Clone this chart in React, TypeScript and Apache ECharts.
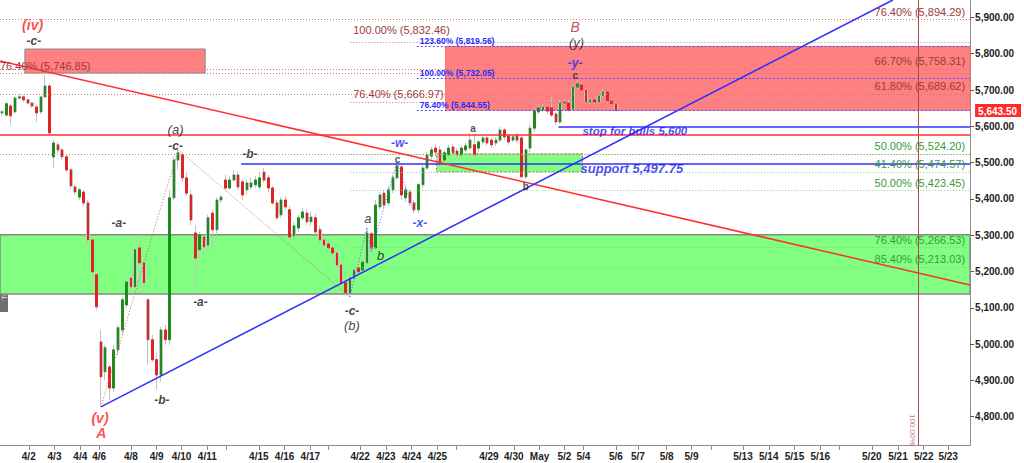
import React, { useEffect, useRef } from 'react';
import * as echarts from 'echarts';

// 4-hour candles: [open, close, low, high]
const candles: number[][] = [
  [5637, 5640, 5629, 5645], [5631, 5662, 5626, 5667], [5656, 5629, 5604, 5662], [5640, 5678, 5634, 5684],
  [5678, 5681, 5673, 5689], [5681, 5673, 5667, 5686], [5673, 5664, 5662, 5675], [5664, 5656, 5651, 5667],
  [5653, 5637, 5612, 5659], [5640, 5681, 5634, 5684], [5681, 5711, 5678, 5741], [5711, 5582, 5576, 5717],
  [5516, 5554, 5485, 5562], [5549, 5535, 5527, 5557], [5535, 5516, 5507, 5540], [5516, 5480, 5474, 5521],
  [5480, 5436, 5428, 5485], [5433, 5419, 5411, 5439], [5405, 5425, 5397, 5430], [5419, 5389, 5381, 5425],
  [5389, 5287, 5273, 5397], [5287, 5199, 5163, 5293], [5191, 5103, 5094, 5196], [5006, 4910, 4827, 5039],
  [4924, 4990, 4901, 4998], [4937, 4879, 4846, 4943], [4879, 4984, 4868, 4998], [4984, 5045, 4970, 5053],
  [5039, 5122, 5025, 5130], [5108, 5171, 5100, 5182], [5182, 5158, 5144, 5191], [5158, 5260, 5149, 5273],
  [5265, 5224, 5163, 5301], [5224, 5169, 5149, 5232], [5122, 5012, 4943, 5127], [5012, 4957, 4951, 5025],
  [4957, 4915, 4874, 4979], [4915, 5039, 4896, 5047], [5039, 5012, 4998, 5053], [5012, 5403, 4998, 5425],
  [5403, 5507, 5397, 5516], [5507, 5527, 5480, 5535], [5521, 5458, 5447, 5529], [5458, 5416, 5408, 5474],
  [5411, 5342, 5328, 5425], [5306, 5237, 5149, 5328], [5260, 5301, 5237, 5309], [5295, 5268, 5246, 5301],
  [5273, 5348, 5260, 5356], [5361, 5315, 5254, 5370], [5315, 5397, 5301, 5405], [5397, 5405, 5389, 5411],
  [5452, 5430, 5425, 5466], [5430, 5452, 5425, 5463], [5452, 5466, 5447, 5480], [5466, 5433, 5425, 5474],
  [5447, 5411, 5397, 5452], [5425, 5444, 5411, 5452], [5433, 5444, 5425, 5458], [5439, 5452, 5430, 5463],
  [5433, 5458, 5425, 5474], [5474, 5452, 5444, 5485], [5458, 5430, 5419, 5466], [5430, 5389, 5383, 5436],
  [5389, 5348, 5342, 5397], [5356, 5397, 5348, 5405], [5397, 5378, 5370, 5408], [5370, 5295, 5287, 5381],
  [5298, 5326, 5287, 5337], [5320, 5348, 5309, 5356], [5348, 5364, 5342, 5375], [5361, 5337, 5328, 5370],
  [5337, 5350, 5326, 5364], [5348, 5309, 5301, 5359], [5315, 5287, 5279, 5326], [5287, 5273, 5265, 5295],
  [5276, 5265, 5254, 5287], [5265, 5251, 5243, 5273], [5251, 5218, 5210, 5260], [5218, 5169, 5160, 5226],
  [5169, 5141, 5133, 5177], [5141, 5182, 5130, 5191], [5182, 5204, 5171, 5213], [5210, 5199, 5191, 5218],
  [5204, 5226, 5196, 5237], [5224, 5306, 5215, 5320], [5304, 5265, 5254, 5309], [5265, 5383, 5254, 5397],
  [5378, 5411, 5370, 5419], [5416, 5383, 5375, 5425], [5389, 5425, 5381, 5436], [5425, 5458, 5416, 5466],
  [5458, 5491, 5452, 5502], [5488, 5411, 5397, 5496], [5403, 5425, 5392, 5436], [5419, 5389, 5381, 5425],
  [5389, 5370, 5361, 5397], [5370, 5439, 5361, 5444], [5439, 5485, 5430, 5494], [5485, 5521, 5480, 5529],
  [5518, 5535, 5507, 5543], [5540, 5529, 5518, 5551], [5535, 5499, 5488, 5546], [5507, 5527, 5499, 5535],
  [5521, 5540, 5513, 5549], [5543, 5527, 5518, 5551], [5532, 5521, 5513, 5540], [5521, 5540, 5513, 5549],
  [5535, 5546, 5529, 5554], [5540, 5562, 5535, 5582], [5549, 5521, 5513, 5576], [5540, 5557, 5529, 5562],
  [5557, 5568, 5549, 5576], [5568, 5554, 5546, 5573], [5562, 5549, 5540, 5568], [5554, 5562, 5546, 5571],
  [5562, 5590, 5557, 5598], [5590, 5571, 5562, 5595], [5573, 5557, 5549, 5579], [5562, 5571, 5557, 5576],
  [5576, 5562, 5554, 5582], [5568, 5461, 5458, 5573], [5461, 5535, 5455, 5540], [5540, 5595, 5529, 5604],
  [5595, 5642, 5584, 5651], [5640, 5651, 5634, 5659], [5645, 5653, 5640, 5662], [5653, 5642, 5634, 5662],
  [5651, 5631, 5626, 5681], [5634, 5612, 5604, 5640], [5612, 5664, 5607, 5673], [5664, 5667, 5659, 5675],
  [5664, 5645, 5640, 5673], [5648, 5708, 5642, 5714], [5708, 5717, 5703, 5728], [5714, 5700, 5695, 5722],
  [5700, 5667, 5662, 5706], [5667, 5673, 5662, 5678], [5673, 5667, 5662, 5678], [5667, 5684, 5662, 5689],
  [5684, 5695, 5678, 5703], [5695, 5670, 5664, 5700], [5670, 5662, 5656, 5675], [5662, 5643.5, 5642, 5667],
];

// session ticks on the bar-index axis
const dayTickPos = [6.7, 12.7, 18.7, 23.1, 30.5, 36.5, 42.3, 48.3, 52.7, 60.3, 66.3, 72.3, 76.5, 83.9, 89.9, 95.9,
  101.9, 106.3, 113.9, 119.7, 125.7, 131.5, 135.9, 143.5, 148.6, 155.3, 161.1, 165.7, 173.1, 179.1, 185.1, 191.1,
  195.5, 203.1, 209.2, 215.2, 220.9];
const dayTickLabels = ['4/2', '4/3', '4/4', '4/6', '4/8', '4/9', '4/10', '4/11', '', '4/15', '4/16', '4/17', '',
  '4/22', '4/23', '4/24', '4/25', '', '4/29', '4/30', 'May', '5/2', '5/4', '5/6', '5/7', '5/8', '5/9', '',
  '5/13', '5/14', '5/15', '5/16', '', '5/20', '5/21', '5/22', '5/23'];
const priceTicks = [4800, 4900, 5000, 5100, 5200, 5300, 5400, 5500, 5600, 5700, 5800, 5900];
const lastClose = 5643.5;

// horizontal levels
const redHLine = 5578;
const stopLevel = 5600;
const supportLevel = 5497.75;
const brownRightLevels = [5894.29, 5758.31, 5689.62];
const brownRightPct = ['76.40%', '66.70%', '61.80%'];
const brownLeftLevels = [5746.85];
const brownLeftPct = ['76.40%'];
const brownMidLevels = [5832.46, 5666.97];
const brownMidPct = ['100.00%', '76.40%'];
const redDottedLevels = [5524.2];
const blueLevels = [5819.56, 5732.05, 5644.55];
const bluePct = ['123.60%', '100.00%', '76.40%'];
const greenLevels = [5524.2, 5474.57, 5423.45, 5266.53, 5213.03];
const greenPct = ['50.00%', '41.40%', '50.00%', '76.40%', '85.40%'];

// zones: [xStart, xEnd, top, bottom]
const zoneRedLeft = [5.8, 47.8, 5813, 5746.85];
const zoneRedTarget = [103.8, 226, 5819.56, 5644.55];
const zoneSupport = [101.7, 135.7, 5524.2, 5474.57];
const zoneGreenBand = [0, 226, 5301, 5138];

// trend lines: [x0, p0, x1, p1]
const redTrend = [0, 5780, 226, 5163];
const blueTrend = [23.5, 4827, 208, 5948];
const fibStartB = 81.6;
const fibStartX = 97.1;
const stopStart = 130.1;
const supportStart = 56.2;
const cycleLineX = 213.9;

// wave pivots (candle indices)
const pivotA = 23, pivotA1 = 41, pivotB1 = 81;
const zigzag: [number, 'l' | 'h'][] = [[81, 'l'], [85, 'h'], [86, 'l'], [92, 'h'], [96, 'l']];

const waveLabels = [
  { text: '(iv)', x: 7.6, y: 5879, kind: 'red' },
  { text: '-c-', x: 7.9, y: 5835, kind: 'dash' },
  { text: '(a)', x: 40.9, y: 5590, kind: 'paren' },
  { text: '-c-', x: 40.9, y: 5546, kind: 'dash' },
  { text: '-b-', x: 58.2, y: 5524, kind: 'dash' },
  { text: '-a-', x: 27.7, y: 5334, kind: 'dash' },
  { text: '-a-', x: 46.7, y: 5116, kind: 'dash' },
  { text: '-b-', x: 37.7, y: 4846, kind: 'dash' },
  { text: '(v)', x: 23.3, y: 4797, kind: 'red' },
  { text: 'A', x: 23.6, y: 4756, kind: 'red' },
  { text: '-c-', x: 82.0, y: 5092, kind: 'dash' },
  { text: '(b)', x: 82.0, y: 5050, kind: 'paren' },
  { text: 'a', x: 85.7, y: 5345, kind: 'paren' },
  { text: 'b', x: 88.7, y: 5243, kind: 'paren' },
  { text: 'c', x: 92.6, y: 5508, kind: 'small' },
  { text: '-w-', x: 93.1, y: 5553, kind: 'blue' },
  { text: '-x-', x: 97.8, y: 5334, kind: 'blue' },
  { text: 'a', x: 110.2, y: 5595, kind: 'small' },
  { text: 'b', x: 122.5, y: 5433, kind: 'small' },
  { text: 'B', x: 134.0, y: 5874, kind: 'darkred' },
  { text: '(y)', x: 134.3, y: 5832, kind: 'paren' },
  { text: '-y-', x: 134.0, y: 5775, kind: 'blue' },
  { text: 'c', x: 134.0, y: 5741, kind: 'small' },
  { text: 'stop for bulls 5,600', x: 147.9, y: 5587, kind: 'note' },
  { text: 'support 5,497.75', x: 147.2, y: 5485, kind: 'noteBig' },
  { text: '100.00%', x: 212.6, y: 4764, kind: 'vert' },
];

const FONT = 'Liberation Sans, Arial, sans-serif';
const X_MAX = 226;
const Y_MIN = 4722;
const Y_MAX = 5948;

const fmt = (v: number) => v.toLocaleString('en-US', { minimumFractionDigits: 2, maximumFractionDigits: 2 });

const kindStyle: Record<string, any> = {
  red: { color: '#ff2020', fontSize: 14, fontWeight: 'bold', fontStyle: 'italic' },
  dash: { color: '#111', fontSize: 12, fontWeight: 'bold', fontStyle: 'italic' },
  paren: { color: '#111', fontSize: 13, fontStyle: 'italic' },
  small: { color: '#222', fontSize: 10, fontWeight: 'bold' },
  blue: { color: '#2020ff', fontSize: 12, fontWeight: 'bold', fontStyle: 'italic' },
  darkred: { color: '#b02828', fontSize: 14, fontStyle: 'italic' },
  note: { color: '#2020ee', fontSize: 11.5, fontWeight: 'bold', fontStyle: 'italic' },
  noteBig: { color: '#2020ee', fontSize: 13, fontWeight: 'bold', fontStyle: 'italic' },
  vert: { color: '#b05050', fontSize: 8, rotate: -90 },
};

function seg(x0: number, y0: number, x1: number, y1: number, color: string, width: number, type: any, label?: any) {
  return [
    { coord: [x0, y0], lineStyle: { color, width, type }, label: label || { show: false } },
    { coord: [x1, y1] },
  ];
}

function lbl(text: string, position: string, color: string, fontSize: number, fontWeight: string, distance: number[]) {
  return { show: true, formatter: text, position, color, fontSize, fontWeight, distance, fontFamily: FONT };
}

function zone(z: number[], itemStyle: any) {
  return [{ coord: [z[0], z[2]], itemStyle }, { coord: [z[1], z[3]] }];
}

function buildOption() {
  const wickData = candles.map((c, i) => [i + 0.5, c[0], c[1], c[2], c[3]]);
  const bodyData = candles.map((c, i) => [i + 0.5, c[0], c[1], Math.min(c[0], c[1]), Math.max(c[0], c[1])]);
  const dot = [1, 2];
  const brownLine = '#cc7a7a';
  const brownText = '#9a3c3c';
  const greenLine = '#8cc88c';
  const greenText = '#3a9a3a';
  const blueLine = '#4a4aff';
  const blueText = '#2a2aff';

  const lines: any[] = [];
  brownRightLevels.forEach((v, i) =>
    lines.push(seg(0, v, X_MAX, v, brownLine, 1, dot, lbl(`${brownRightPct[i]} (${fmt(v)})`, 'insideEndTop', brownText, 11, 'normal', [5, 2]))));
  brownLeftLevels.forEach((v, i) =>
    lines.push(seg(0, v, X_MAX, v, brownLine, 1, dot, lbl(`${brownLeftPct[i]} (${fmt(v)})`, 'insideStartTop', brownText, 11, 'normal', [0, 2]))));
  brownMidLevels.forEach((v, i) =>
    lines.push(seg(fibStartB, v, X_MAX, v, brownLine, 1, dot, lbl(`${brownMidPct[i]} (${fmt(v)})`, 'insideStartTop', brownText, 11, 'normal', [3, i === 0 ? 6 : 3]))));
  redDottedLevels.forEach((v) => lines.push(seg(0, v, X_MAX, v, '#d08080', 1, dot)));
  greenLevels.forEach((v, i) =>
    lines.push(seg(fibStartB, v, X_MAX, v, greenLine, 1, dot, lbl(`${greenPct[i]} (${fmt(v)})`, 'insideEndTop', greenText, 11, 'normal', [5, 2]))));
  blueLevels.forEach((v, i) =>
    lines.push(seg(fibStartX, v, X_MAX, v, blueLine, 1, [2, 2], lbl(`${bluePct[i]} (${fmt(v)})`, 'insideStartTop', blueText, 8.5, 'bold', [3, 1]))));

  lines.push(seg(0, redHLine, X_MAX, redHLine, '#ff3030', 1.5, 'solid'));
  lines.push(seg(stopStart, stopLevel, X_MAX, stopLevel, '#3030ff', 1.5, 'solid'));
  lines.push(seg(supportStart, supportLevel, X_MAX, supportLevel, '#3030ff', 1.5, 'solid'));
  lines.push(seg(redTrend[0], redTrend[1], redTrend[2], redTrend[3], '#ff3030', 1.5, 'solid'));
  lines.push(seg(blueTrend[0], blueTrend[1], blueTrend[2], blueTrend[3], '#2f2fff', 1.5, 'solid'));
  lines.push(seg(cycleLineX, Y_MIN, cycleLineX, Y_MAX, '#b04848', 1, 'solid'));

  // wave pivot connectors
  const pA = [pivotA + 0.5, candles[pivotA][2]];
  const pa = [pivotA1 + 0.5, candles[pivotA1][3]];
  const pb = [pivotB1 + 0.5, candles[pivotB1][2]];
  lines.push(seg(pA[0], pA[1], pa[0], pa[1], '#d06060', 1, [1, 2]));
  lines.push(seg(pa[0], pa[1], pb[0], pb[1], '#d06060', 1, [1, 2]));
  for (let k = 0; k < zigzag.length - 1; k++) {
    const [i0, t0] = zigzag[k];
    const [i1, t1] = zigzag[k + 1];
    const y0 = t0 === 'l' ? candles[i0][2] : candles[i0][3];
    const y1 = t1 === 'l' ? candles[i1][2] : candles[i1][3];
    lines.push(seg(i0 + 0.5, y0, i1 + 0.5, y1, '#6060ff', 1, [1, 2]));
  }

  const areas = [
    zone(zoneGreenBand, { color: '#80ff80', opacity: 1, borderColor: '#888', borderWidth: 1.5 }),
    zone(zoneRedLeft, { color: '#ff8080', opacity: 1, borderColor: '#8a8a8a', borderWidth: 1 }),
    zone(zoneRedTarget, { color: '#ff8080', opacity: 1, borderColor: '#ff7070', borderWidth: 1 }),
    zone(zoneSupport, { color: '#80ff80', opacity: 1, borderColor: '#d05050', borderWidth: 1, borderType: [2, 2] }),
  ];

  const labelPos = dayTickPos.filter((_, i) => dayTickLabels[i] !== '');

  return {
    animation: false,
    backgroundColor: '#fff',
    textStyle: { fontFamily: FONT },
    grid: { left: 0, right: 46, top: 0, bottom: 18, containLabel: false },
    graphic: [
      {
        type: 'group', left: 0, top: 248, silent: true,
        children: [
          { type: 'rect', shape: { x: 0, y: 0, width: 8, height: 64 }, style: { fill: '#707070' } },
          { type: 'text', x: 4, y: 32, rotation: Math.PI / 2,
            style: { text: 'TradingApps', fill: '#e6e6e6', font: `7px ${FONT}`, align: 'center', verticalAlign: 'middle' } },
        ],
      },
    ],
    xAxis: {
      type: 'value', min: 0, max: X_MAX,
      axisLine: { show: true, onZero: false, lineStyle: { color: '#8c8c8c', width: 1 } },
      axisTick: { show: true, customValues: dayTickPos, length: 5, lineStyle: { color: '#8c8c8c' } },
      axisLabel: {
        customValues: labelPos,
        formatter: (v: number) => {
          const i = dayTickPos.findIndex((p) => Math.abs(p - v) < 1e-6);
          return i >= 0 ? dayTickLabels[i] : '';
        },
        color: '#222', fontWeight: 'bold', fontSize: 10, margin: 6, fontFamily: FONT,
      },
      splitLine: { show: false },
    },
    yAxis: {
      type: 'value', position: 'right', min: Y_MIN, max: Y_MAX,
      axisLine: { show: true, onZero: false, lineStyle: { color: '#8c8c8c', width: 1 } },
      axisTick: { show: true, customValues: priceTicks, length: 4, lineStyle: { color: '#555' } },
      axisLabel: {
        customValues: [...priceTicks, lastClose],
        formatter: (v: number) => (Math.abs(v - lastClose) < 0.01 ? `{tag|${fmt(v)}}` : fmt(v)),
        color: '#222', fontWeight: 'bold', fontSize: 10, margin: 5, fontFamily: FONT,
        rich: {
          tag: { backgroundColor: '#ff2a2a', color: '#fff', fontWeight: 'bold', fontSize: 10, padding: [2, 4, 1, 3], fontFamily: FONT },
        },
      },
      splitLine: { show: false },
    },
    series: [
      {
        type: 'line', data: [], silent: true,
        markArea: { silent: true, data: areas, emphasis: { disabled: true }, label: { show: false } },
      },
      {
        type: 'candlestick', data: wickData, encode: { x: 0, y: [1, 2, 3, 4] }, barWidth: 3, silent: true,
        itemStyle: { color: '#c4c4c4', color0: '#c4c4c4', borderColor: '#c4c4c4', borderColor0: '#c4c4c4', borderWidth: 1 },
      },
      {
        type: 'candlestick', data: bodyData, encode: { x: 0, y: [1, 2, 3, 4] }, barWidth: 2, silent: true,
        itemStyle: { color: '#1f8b1f', color0: '#e02424', borderColor: '#1f8b1f', borderColor0: '#e02424', borderWidth: 1 },
      },
      {
        type: 'line', data: [], silent: true,
        markLine: { silent: true, symbol: 'none', data: lines, emphasis: { disabled: true } },
      },
      {
        type: 'scatter', silent: true, symbol: 'circle', symbolSize: 1, itemStyle: { color: 'rgba(0,0,0,0)' },
        data: waveLabels.map((w) => ({
          value: [w.x, w.y],
          label: { show: true, position: 'inside', formatter: w.text, fontFamily: FONT, ...kindStyle[w.kind] },
        })),
        z: 6,
      },
    ],
  };
}

export default function App() {
  const ref = useRef<HTMLDivElement>(null);
  useEffect(() => {
    const chart = echarts.init(ref.current!, null, { renderer: 'svg' });
    chart.setOption(buildOption() as any);
    return () => chart.dispose();
  }, []);
  return (
    <div
      ref={ref}
      style={{ position: 'fixed', left: 0, top: 0, width: 1024, height: 463, background: '#fff' }}
    />
  );
}
